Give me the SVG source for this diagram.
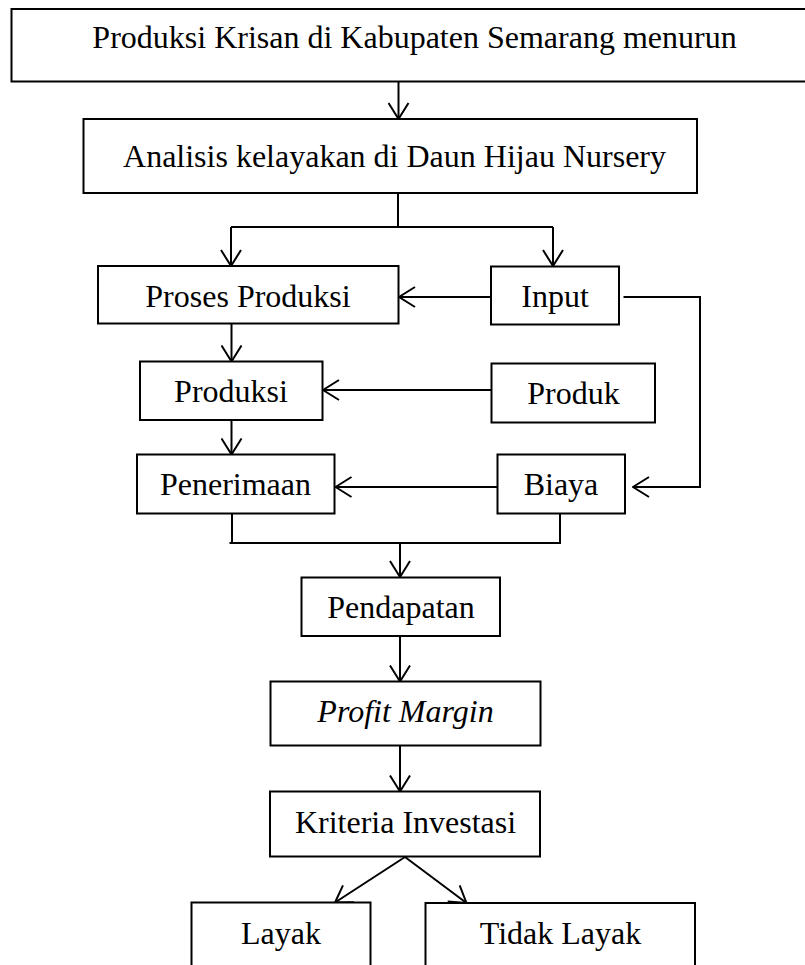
<svg xmlns="http://www.w3.org/2000/svg" width="805" height="965" viewBox="0 0 805 965">
<style>
.box{fill:#fff;stroke:#000;stroke-width:2}
.lbl{font-family:"Liberation Serif","Times New Roman",serif;font-size:32px;fill:#000;text-anchor:middle}
.con{fill:none;stroke:#000;stroke-width:2}
.arr{marker-end:url(#ah)}
</style>
<defs>
<marker id="ah" markerUnits="userSpaceOnUse" viewBox="0 0 18 22" refX="17" refY="11" markerWidth="18" markerHeight="22" orient="auto">
<path d="M1,1 L17,11 L1,21" fill="none" stroke="#000" stroke-width="2"/>
</marker>
</defs>
<rect width="805" height="965" fill="#fff"/>
<g id="connectors">
<path class="con arr" d="M398.5,82 V119"/>
<path class="con" d="M398,193 V227 M231,227 H553"/>
<path class="con arr" d="M231,227 V266"/>
<path class="con arr" d="M553,227 V266"/>
<path class="con arr" d="M491,297 H399"/>
<path class="con arr" d="M623.5,297 H700 V487 H633"/>
<path class="con arr" d="M231.5,324 V361.5"/>
<path class="con arr" d="M491.5,390 H323"/>
<path class="con arr" d="M231.5,420 V454.5"/>
<path class="con arr" d="M497,487 H335.5"/>
<path class="con" d="M232,513 V543 M560,513 V543 M229.5,543 H561"/>
<path class="con arr" d="M400,543 V577"/>
<path class="con arr" d="M400,636 V681.5"/>
<path class="con arr" d="M400,746 V791.5"/>
<path class="con arr" d="M405,857 L335,902.5"/>
<path class="con arr" d="M405,857 L466.5,903"/>
</g>
<g id="n-top"><rect class="box" x="11.5" y="9" width="810" height="72.5"/><text class="lbl" x="414.5" y="48">Produksi Krisan di Kabupaten Semarang menurun</text></g>
<g id="n-analisis"><rect class="box" x="83.5" y="119" width="613.5" height="74"/><text class="lbl" x="394.5" y="166.5">Analisis kelayakan di Daun Hijau Nursery</text></g>
<g id="n-proses"><rect class="box" x="98" y="266" width="300.5" height="57.5"/><text class="lbl" x="248" y="306.5">Proses Produksi</text></g>
<g id="n-input"><rect class="box" x="491" y="266.5" width="128" height="58"/><text class="lbl" x="555" y="306.5">Input</text></g>
<g id="n-produksi"><rect class="box" x="140" y="361.5" width="182.5" height="58.5"/><text class="lbl" x="231" y="402">Produksi</text></g>
<g id="n-produk"><rect class="box" x="491.5" y="363.5" width="163.5" height="59"/><text class="lbl" x="573.5" y="404">Produk</text></g>
<g id="n-penerimaan"><rect class="box" x="137" y="454.5" width="197.5" height="59"/><text class="lbl" x="235.5" y="495">Penerimaan</text></g>
<g id="n-biaya"><rect class="box" x="497.5" y="454.5" width="127.5" height="59"/><text class="lbl" x="561" y="495">Biaya</text></g>
<g id="n-pendapatan"><rect class="box" x="301.5" y="577.5" width="198.5" height="58.5"/><text class="lbl" x="401" y="617.5">Pendapatan</text></g>
<g id="n-profit"><rect class="box" x="270.5" y="681.5" width="270" height="64"/><text class="lbl" x="405.5" y="722" font-style="italic">Profit Margin</text></g>
<g id="n-kriteria"><rect class="box" x="270" y="791.5" width="270" height="65"/><text class="lbl" x="405.5" y="832.5">Kriteria Investasi</text></g>
<g id="n-layak"><rect class="box" x="191.5" y="902.5" width="179" height="80"/><text class="lbl" x="281" y="943.5">Layak</text></g>
<g id="n-tidak"><rect class="box" x="425.5" y="903" width="269.5" height="80"/><text class="lbl" x="560.5" y="943.5">Tidak Layak</text></g>
</svg>
